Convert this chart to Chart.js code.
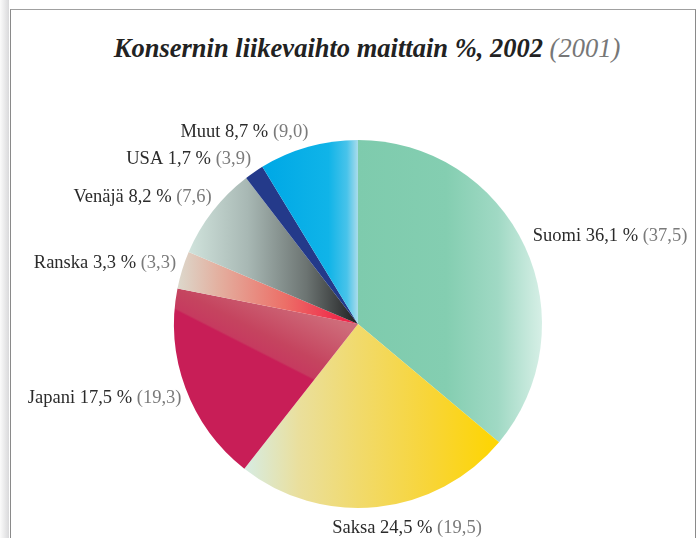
<!DOCTYPE html>
<html lang="fi">
<head>
  <meta charset="UTF-8">
  <title>Konsernin liikevaihto maittain</title>
  <script src="https://cdn.jsdelivr.net/npm/chart.js"></script>
  <style>
    body {
      margin: 0;
      background: #fff;
      font-family: "Liberation Serif", serif;
    }
    #wrap {
      position: relative;
      width: 697px;
      height: 538px;
      overflow: hidden;
    }
    #shade {
      position: absolute;
      left: 0; top: 0;
      width: 9px; height: 538px;
      background: linear-gradient(to right, #fbfbfb, #d9d9db);
    }
    #frame {
      position: absolute;
      left: 10px; top: 9px;
      width: 684px; height: 560px;
      border: 1px solid #8a8a8a;
      border-top-color: #a0a0a0;
    }
    #title {
      position: absolute;
      left: 0; top: 33px;
      width: 734px;
      text-align: center;
      font: italic bold 26.5px "Liberation Serif", serif;
      color: #222;
    }
    #title span { color: #777; font-weight: normal; }
    canvas { position: absolute; left: 0; top: 0; }
  </style>
</head>
<body>
  <div id="wrap">
    <div id="shade"></div>
    <div id="frame"></div>
    <div id="title">Konsernin liikevaihto maittain %, 2002 <span>(2001)</span></div>
    <canvas id="pie" width="697" height="538"></canvas>
  </div>

  <script>
    // data, clockwise from 12 o'clock
    const countries = ['Suomi', 'Saksa', 'Japani', 'Ranska', 'Venäjä', 'USA', 'Muut'];
    const share2002 = [36.1, 24.5, 17.5, 3.3, 8.2, 1.7, 8.7];
    const share2001 = [37.5, 19.5, 19.3, 3.3, 7.6, 3.9, 9.0];

    // horizontal gradient stops per slice, 0 = left edge of pie, 1 = right edge
    const sliceStops = [
      [[0.5, '#7ecbad'], [0.74, '#84ceb1'], [0.88, '#a0d9c4'], [1, '#d6efe6']],
      [[0.19, '#d6ece4'], [0.34, '#eadf9c'], [0.5, '#f1da6c'], [0.7, '#f8d536'], [0.86, '#fdd506']],
      null,
      [[0, '#dcdcd0'], [0.12, '#e3b0a0'], [0.3, '#ec7068'], [0.45, '#f02a4a'], [0.5, '#ee1f48']],
      [[0.04, '#d0e3dc'], [0.2, '#a8b8b4'], [0.36, '#6c7472'], [0.5, '#1f1f21']],
      [[0, '#243a8a'], [1, '#243a8a']],
      [[0.26, '#00a9e6'], [0.42, '#10b4e8'], [0.47, '#48c3ea'], [0.5, '#aadcec']]
    ];

    // label placement: side and nudge from the arc edge at mid angle
    const labelAlign = ['left', 'center', 'right', 'right', 'right', 'right', 'right'];
    const labelNudge = [[8, -10], [30, 21], [-4, 10], [-6, -7], [-1, -14], [-3, -13], [0, -15]];

    function fmt(v) {
      return v.toFixed(1).replace('.', ',');
    }

    function sliceFill(c) {
      const chart = c.chart;
      const area = chart.chartArea;
      if (!area) return '#ccc';
      const g = chart.ctx;
      const i = c.dataIndex;
      const cx = (area.left + area.right) / 2;
      const cy = (area.top + area.bottom) / 2;
      const r = Math.min(area.width, area.height) / 2;
      if (i === 2) {
        // Japani: diagonal shading, lighter toward the centre / Ranska edge
        const x0 = cx - 1.02 * r, y0 = cy - 0.06 * r;
        const grad = g.createLinearGradient(x0, y0, x0 + 0.165 * r, y0 - 0.325 * r);
        grad.addColorStop(0, '#c81e57');
        grad.addColorStop(0.07, '#c81e57');
        grad.addColorStop(0.1, '#c63a5f');
        grad.addColorStop(0.35, '#c5445f');
        grad.addColorStop(1, '#ce6b79');
        return grad;
      }
      const grad = g.createLinearGradient(cx - r, 0, cx + r, 0);
      sliceStops[i].forEach(s => grad.addColorStop(s[0], s[1]));
      return grad;
    }

    const labelPlugin = {
      id: 'sliceLabels',
      afterDatasetsDraw(chart) {
        const g = chart.ctx;
        const arcs = chart.getDatasetMeta(0).data;
        g.save();
        g.font = '18.5px "Liberation Serif", serif';
        g.textBaseline = 'middle';
        arcs.forEach((arc, i) => {
          const mid = (arc.startAngle + arc.endAngle) / 2;
          const x = arc.x + Math.cos(mid) * arc.outerRadius + labelNudge[i][0];
          const y = arc.y + Math.sin(mid) * arc.outerRadius + labelNudge[i][1];
          const main = countries[i] + ' ' + fmt(share2002[i]) + ' % ';
          const prev = '(' + fmt(share2001[i]) + ')';
          const w1 = g.measureText(main).width;
          const w2 = g.measureText(prev).width;
          let x0 = x;
          if (labelAlign[i] === 'right') x0 = x - w1 - w2;
          else if (labelAlign[i] === 'center') x0 = x - (w1 + w2) / 2;
          g.textAlign = 'left';
          g.fillStyle = '#2b2b2b';
          g.fillText(main, x0, y);
          g.fillStyle = '#7a7a7a';
          g.fillText(prev, x0 + w1, y);
        });
        g.restore();
      }
    };

    new Chart(document.getElementById('pie'), {
      type: 'pie',
      data: {
        labels: countries,
        datasets: [{
          data: share2002,
          backgroundColor: sliceFill,
          borderWidth: 0
        }]
      },
      options: {
        responsive: false,
        animation: false,
        layout: { padding: { left: 174, right: 155, top: 140, bottom: 30 } },
        plugins: {
          legend: { display: false },
          tooltip: { enabled: false }
        }
      },
      plugins: [labelPlugin]
    });
  </script>
</body>
</html>
